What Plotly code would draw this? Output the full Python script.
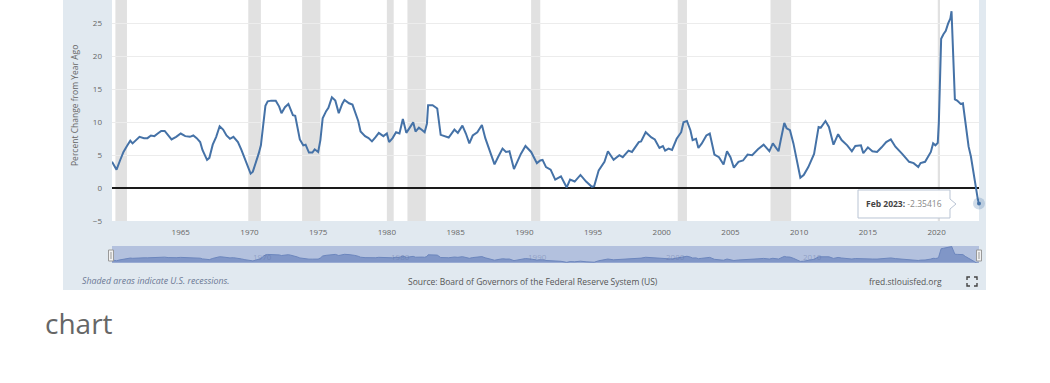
import plotly.graph_objects as go

# ---------------- data ----------------
dates = [
    "1960-01", "1960-03", "1960-05", "1960-08", "1960-11", "1961-02", "1961-05", "1961-07", "1961-10",
    "1962-01", "1962-05", "1962-08", "1962-11", "1963-02", "1963-05", "1963-08", "1963-11",
    "1964-02", "1964-05", "1964-09", "1965-01", "1965-05", "1965-09", "1965-12",
    "1966-03", "1966-06", "1966-08", "1966-12", "1967-02", "1967-05", "1967-08", "1967-11",
    "1968-02", "1968-05", "1968-08", "1968-11", "1969-03", "1969-06", "1969-09", "1969-12",
    "1970-02", "1970-04", "1970-06", "1970-09", "1970-11", "1971-01", "1971-03", "1971-05",
    "1971-08", "1971-12", "1972-03", "1972-05", "1972-08", "1972-11", "1973-01", "1973-03",
    "1973-05", "1973-07", "1973-09", "1973-12", "1974-02", "1974-05", "1974-08", "1974-10",
    "1975-01", "1975-03", "1975-05", "1975-08", "1975-10", "1976-01", "1976-04", "1976-07",
    "1976-10", "1976-12", "1977-04", "1977-07", "1977-09", "1977-12", "1978-02", "1978-06",
    "1978-09", "1978-12", "1979-03", "1979-06", "1979-10", "1980-01", "1980-03", "1980-06",
    "1980-09", "1980-12", "1981-03", "1981-06", "1981-09", "1981-12", "1982-02", "1982-05",
    "1982-08", "1982-10", "1982-12", "1983-01", "1983-05", "1983-09", "1983-12", "1984-03",
    "1984-07", "1984-12", "1985-03", "1985-07", "1985-10", "1986-01", "1986-04", "1986-08",
    "1986-12", "1987-03", "1987-06", "1987-11", "1988-02", "1988-06", "1988-09", "1988-12",
    "1989-04", "1989-10", "1990-02", "1990-07", "1990-12", "1991-03", "1991-05", "1991-08",
    "1991-12", "1992-04", "1992-09", "1993-02", "1993-05", "1993-09", "1994-02", "1994-07",
    "1994-12", "1995-02", "1995-06", "1995-11", "1996-02", "1996-07", "1996-12", "1997-03",
    "1997-08", "1997-11", "1998-05", "1998-07", "1998-11", "1999-04", "1999-07", "1999-11",
    "2000-02", "2000-04", "2000-07", "2000-10", "2001-02", "2001-06", "2001-08", "2001-11",
    "2002-02", "2002-04", "2002-07", "2002-09", "2002-12", "2003-04", "2003-07", "2003-11",
    "2004-03", "2004-07", "2004-10", "2005-01", "2005-04", "2005-08", "2005-12", "2006-04",
    "2006-08", "2007-01", "2007-06", "2007-11", "2008-02", "2008-07", "2008-09", "2008-12",
    "2009-02", "2009-05", "2009-08", "2009-12", "2010-02", "2010-05", "2010-09", "2011-02",
    "2011-06", "2011-08", "2011-12", "2012-03", "2012-07", "2012-11", "2013-02", "2013-07",
    "2013-11", "2014-02", "2014-07", "2014-09", "2015-01", "2015-05", "2015-09", "2016-01",
    "2016-05", "2016-09", "2017-01", "2017-07", "2018-01", "2018-05", "2018-09", "2018-11",
    "2019-03", "2019-08", "2019-10", "2019-12", "2020-02", "2020-03", "2020-04", "2020-05",
    "2020-07", "2020-09", "2020-11", "2021-01", "2021-02", "2021-03", "2021-04", "2021-05",
    "2021-07", "2021-10", "2021-12", "2022-02", "2022-05", "2022-07", "2022-10", "2022-12",
    "2023-01", "2023-02",
]
m2_yoy = [
    4.0, 3.4, 2.8, 4.2, 5.5, 6.4, 7.2, 6.8, 7.3,
    7.8, 7.6, 7.6, 8.0, 7.9, 8.3, 8.7, 8.7,
    8.0, 7.4, 7.8, 8.3, 7.9, 7.8, 8.0,
    7.6, 7.0, 5.8, 4.3, 4.6, 6.6, 7.8, 9.4,
    8.9, 8.0, 7.5, 7.8, 7.0, 5.8, 4.5, 3.3,
    2.2, 2.5, 3.5, 5.2, 6.5, 9.8, 12.5, 13.2,
    13.3, 13.3, 12.4, 11.4, 12.3, 12.8, 12.0, 11.1,
    11.0, 9.0, 7.4, 6.5, 6.6, 5.4, 5.4, 5.9,
    5.5, 7.3, 10.6, 11.7, 12.2, 13.8, 13.3, 11.4,
    12.8, 13.4, 12.9, 12.7, 11.6, 10.2, 8.6, 7.9,
    7.6, 7.1, 7.7, 8.4, 7.9, 8.3, 7.0, 7.6,
    8.5, 8.3, 10.5, 8.4, 9.2, 10.0, 8.6, 9.2,
    8.8, 8.5, 9.8, 12.6, 12.6, 12.1, 8.1, 7.9,
    7.7, 8.9, 8.4, 9.5, 8.3, 6.8, 8.0, 8.5,
    9.6, 7.6, 6.2, 3.6, 4.7, 6.0, 5.5, 5.6,
    2.9, 5.2, 6.4, 5.5, 3.8, 4.2, 4.3, 3.2,
    2.8, 1.3, 1.8, 0.1, 1.3, 1.0, 2.0, 1.0,
    0.2, 0.3, 2.7, 4.0, 5.6, 4.3, 5.0, 4.7,
    5.7, 5.5, 7.0, 7.1, 8.5, 7.7, 7.4, 6.1,
    6.4, 5.7, 6.0, 5.8, 7.5, 8.5, 10.0, 10.2,
    8.8, 7.3, 7.5, 6.1, 6.8, 8.0, 8.3, 5.1,
    4.7, 3.6, 5.6, 4.7, 3.1, 4.0, 4.2, 5.1,
    5.0, 5.9, 6.6, 5.6, 6.8, 5.6, 7.4, 9.9,
    9.1, 8.8, 6.8, 3.1, 1.6, 2.0, 3.2, 5.2,
    9.3, 9.2, 10.2, 9.3, 6.6, 8.2, 7.3, 6.5,
    5.6, 6.4, 6.5, 5.3, 6.2, 5.6, 5.5, 6.2,
    7.0, 7.4, 6.3, 5.2, 4.0, 3.8, 3.2, 3.8,
    4.0, 5.5, 6.8, 6.5, 6.9, 10.0, 17.8, 22.7,
    23.4, 23.9, 25.0, 25.8, 26.9, 22.5, 18.0, 13.5,
    13.3, 12.8, 12.9, 10.0, 6.3, 4.8, 1.3, -1.0,
    -1.7, -2.35416,
]

rec_start = ["1960-04", "1969-12", "1973-11", "1980-01", "1981-07", "1990-07", "2001-03", "2007-12", "2020-02"]
rec_end = ["1961-02", "1970-11", "1975-03", "1980-07", "1982-11", "1991-03", "2001-11", "2009-06", "2020-04"]

x_tick_vals = ["1965-01", "1970-01", "1975-01", "1980-01", "1985-01", "1990-01",
               "1995-01", "2000-01", "2005-01", "2010-01", "2015-01", "2020-01"]
x_tick_text = ["1965", "1970", "1975", "1980", "1985", "1990",
               "1995", "2000", "2005", "2010", "2015", "2020"]
y_tick_vals = [-5, 0, 5, 10, 15, 20, 25]
nav_label_vals = ["1970-01", "1980-01", "1990-01", "2000-01", "2010-01"]
nav_label_text = ["1970", "1980", "1990", "2000", "2010"]

y_title = "Percent Change from Year Ago"
footer_left = "Shaded areas indicate U.S. recessions."
footer_mid = "Source: Board of Governors of the Federal Reserve System (US)"
footer_right = "fred.stlouisfed.org"
below_text = "chart"

# ---------------- layout geometry ----------------
W, H = 1050, 383
L, R, T, B = 112, 71, 0, 93
PW, PH = W - L - R, H - T - B


def fx(px):
    return (px - L) / PW


def fy(py):
    return (PH - py) / PH


FONT = "Open Sans"
LINE = "#4572a7"
PANEL = "#e1e9f0"

fig = go.Figure()

# main series
fig.add_trace(go.Scatter(x=dates, y=m2_yoy, mode="lines",
                         line=dict(color=LINE, width=2), xaxis="x", yaxis="y",
                         hoverinfo="skip"))
# last point marker (halo + dot)
fig.add_trace(go.Scatter(x=[dates[-1]], y=[m2_yoy[-1]], mode="markers",
                         marker=dict(size=12, color="rgba(69,114,167,0.25)"),
                         cliponaxis=False, xaxis="x", yaxis="y", hoverinfo="skip"))
fig.add_trace(go.Scatter(x=[dates[-1]], y=[m2_yoy[-1]], mode="markers",
                         marker=dict(size=4, color=LINE),
                         cliponaxis=False, xaxis="x", yaxis="y", hoverinfo="skip"))
# navigator series
fig.add_trace(go.Scatter(x=dates, y=m2_yoy, mode="lines", fill="tozeroy",
                         line=dict(color="#6c86bd", width=1), fillcolor="#8096c7",
                         xaxis="x2", yaxis="y2", hoverinfo="skip"))

shapes = []
# panel background
shapes.append(dict(type="rect", xref="paper", yref="paper", x0=fx(63), x1=fx(986),
                   y0=fy(290), y1=1, fillcolor=PANEL, line=dict(width=0), layer="below"))
# plot area white
shapes.append(dict(type="rect", xref="paper", yref="y domain", x0=0, x1=1, y0=0, y1=1,
                   fillcolor="white", line=dict(width=0), layer="below"))
# recessions
for s, e in zip(rec_start, rec_end):
    shapes.append(dict(type="rect", xref="x", yref="y domain", x0=s, x1=e, y0=0, y1=1,
                       fillcolor="#e1e1e1", line=dict(width=0), layer="below"))
# navigator mask
shapes.append(dict(type="rect", xref="x2 domain", yref="y2 domain", x0=0, x1=1, y0=0, y1=1,
                   fillcolor="#b3c1de", line=dict(width=0), layer="below"))
# navigator handles
for hx0, hx1 in [(108.5, 113.5), (976.5, 981.5)]:
    shapes.append(dict(type="rect", xref="paper", yref="paper", x0=fx(hx0), x1=fx(hx1),
                       y0=fy(261), y1=fy(250), fillcolor="#f2f2f2",
                       line=dict(color="#999999", width=1), layer="above"))
    cx = (hx0 + hx1) / 2
    shapes.append(dict(type="line", xref="paper", yref="paper", x0=fx(cx), x1=fx(cx),
                       y0=fy(259), y1=fy(252), line=dict(color="#999999", width=1), layer="above"))
# tooltip box with arrow
pts = [(858, 190), (950, 190), (950, 199), (956, 204), (950, 209), (950, 218), (858, 218)]
path = "M " + " L ".join(f"{fx(a):.5f},{fy(b):.5f}" for a, b in pts) + " Z"
shapes.append(dict(type="path", xref="paper", yref="paper", path=path,
                   fillcolor="rgba(255,255,255,0.95)", line=dict(color="#b9c4d4", width=1),
                   layer="above"))
# fullscreen icon
icon = [
    [(967, 280), (967, 277), (970, 277)],
    [(974, 277), (977, 277), (977, 280)],
    [(967, 283), (967, 286), (970, 286)],
    [(974, 286), (977, 286), (977, 283)],
]
for seg in icon:
    p = "M " + " L ".join(f"{fx(a):.5f},{fy(b):.5f}" for a, b in seg)
    shapes.append(dict(type="path", xref="paper", yref="paper", path=p,
                       line=dict(color="#444444", width=1.4), layer="above"))

annotations = []
annotations.append(dict(text=y_title, xref="paper", yref="paper", x=fx(75), y=fy(106),
                        xanchor="center", yanchor="middle",
                        textangle=-90, showarrow=False, font=dict(family=FONT, size=8.5, color="#666666")))
annotations.append(dict(text=f"<i>{footer_left}</i>", xref="paper", yref="paper", x=fx(80), y=fy(281),
                        xanchor="left", yanchor="middle", showarrow=False,
                        font=dict(family=FONT, size=8.8, color="#6b7894")))
annotations.append(dict(text=footer_mid, xref="paper", yref="paper", x=fx(533), y=fy(281),
                        xanchor="center", yanchor="middle", showarrow=False,
                        font=dict(family=FONT, size=8.5, color="#555555")))
annotations.append(dict(text=footer_right, xref="paper", yref="paper", x=fx(905), y=fy(281),
                        xanchor="center", yanchor="middle", showarrow=False,
                        font=dict(family=FONT, size=8.5, color="#555555")))
last_label = "Feb 2023"
annotations.append(dict(text=f"<b>{last_label}:</b> <span style='color:#888888'>{m2_yoy[-1]}</span>",
                        xref="paper", yref="paper", x=fx(904), y=fy(203),
                        xanchor="center", yanchor="middle", showarrow=False,
                        font=dict(family=FONT, size=8.5, color="#444444")))
annotations.append(dict(text=below_text, xref="paper", yref="paper", x=fx(43), y=fy(323),
                        xanchor="left", yanchor="middle", showarrow=False,
                        font=dict(family=FONT, size=28, color="#666666")))
for v, t in zip(nav_label_vals, nav_label_text):
    annotations.append(dict(text=t, xref="x2", yref="paper", x=v, y=fy(256), xshift=2,
                            xanchor="left", yanchor="middle", showarrow=False,
                            font=dict(family=FONT, size=8, color="rgba(90,110,160,0.40)")))

fig.update_layout(
    width=W, height=H,
    margin=dict(l=L, r=R, t=T, b=B, pad=0),
    paper_bgcolor="white", plot_bgcolor="rgba(0,0,0,0)",
    showlegend=False, hovermode=False,
    font=dict(family=FONT, size=8, color="#666666"),
    xaxis=dict(type="date", range=["1960-01-01", "2023-02-01"], domain=[0, 1], anchor="y",
               tickvals=x_tick_vals, ticktext=x_tick_text, showgrid=False, zeroline=False,
               showline=False, ticks="", ticklabelstandoff=5,
               tickfont=dict(family=FONT, size=8, color="#666666")),
    yaxis=dict(range=[-5, 28.6], domain=[fy(221), 1], anchor="x",
               tickvals=y_tick_vals, showgrid=True, gridcolor="#ececec", gridwidth=1,
               zeroline=True, zerolinecolor="#1a1a1a", zerolinewidth=1.6,
               showline=False, ticks="", ticklabelstandoff=9,
               tickfont=dict(family=FONT, size=8, color="#666666")),
    xaxis2=dict(type="date", range=["1960-01-01", "2023-02-01"], domain=[0, 1], anchor="y2",
                showgrid=False, zeroline=False, showline=False, showticklabels=False, ticks=""),
    yaxis2=dict(range=[-1, 27.2], domain=[fy(263), fy(246)], anchor="x2",
                showgrid=False, zeroline=False, showline=False, showticklabels=False, ticks=""),
    shapes=shapes,
    annotations=annotations,
)

fig.write_html("out.html", config={"displayModeBar": False},
               post_script="document.body.style.margin='0';")
